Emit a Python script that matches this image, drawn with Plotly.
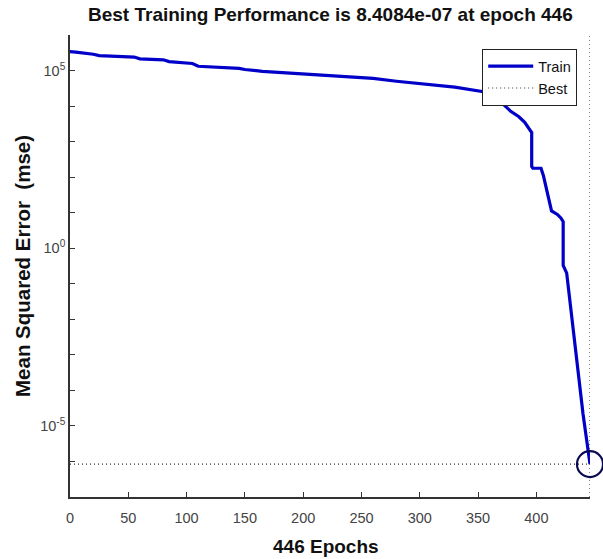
import plotly.graph_objects as go

# Training curve (epoch, mse)
epochs = [0, 5, 20, 25, 55, 60, 80, 85, 105, 110, 145, 150, 165, 200, 240, 260, 280,
          300, 330, 356, 365, 372, 378, 385, 390, 396, 396, 397, 404, 406, 410, 413,
          418, 421, 423, 423, 426, 430, 435, 440, 446]
mse = [3.39e5, 3.31e5, 2.88e5, 2.63e5, 2.40e5, 2.14e5, 2.0e5, 1.78e5, 1.58e5, 1.32e5,
       1.15e5, 1.07e5, 9.5e4, 7.9e4, 6.6e4, 6.0e4, 5.0e4, 4.2e4, 3.4e4, 2.5e4, 1.8e4,
       1.1e4, 7.1e3, 5.0e3, 3.5e3, 1.8e3, 200, 178, 178, 112, 28, 11.2, 8.9, 7.1, 5.6,
       0.33, 0.2, 0.0155, 6.3e-4, 2.2e-5, 8.4084e-7]

best_epoch = 446
best_value = 8.4084e-7
y_min, y_max = 1e-7, 1e6

x_ticks = [0, 50, 100, 150, 200, 250, 300, 350, 400]
y_major = [1e-5, 1e0, 1e5]
y_major_text = ["10<sup>-5</sup>", "10<sup>0</sup>", "10<sup>5</sup>"]
y_minor = [10.0 ** k for k in range(-7, 7) if k not in (-5, 0, 5)]

W, H = 603, 559
L, R, T, B = 70, 13, 35, 62
pw, ph = W - L - R, H - T - B

fig = go.Figure()
fig.add_trace(go.Scatter(
    x=epochs, y=mse, mode="lines", name="Train",
    line=dict(color="#0000c8", width=3.2)))
fig.add_trace(go.Scatter(
    x=[0, best_epoch, None, best_epoch, best_epoch],
    y=[best_value, best_value, None, y_min, y_max],
    mode="lines", name="Best", cliponaxis=False,
    line=dict(color="#333333", width=1.2, dash="1px,3px")))
fig.add_trace(go.Scatter(
    x=[best_epoch], y=[best_value], mode="markers", showlegend=False,
    marker=dict(symbol="circle-open", size=26, color="#0a0a50",
                line=dict(width=2.2, color="#0a0a50")),
    cliponaxis=False))

title_font = dict(family="Liberation Sans, Arial, sans-serif", size=19, color="#111")
ylabel_font = dict(family="Liberation Sans, Arial, sans-serif", size=20.5, color="#111")

fig.update_layout(
    width=W, height=H,
    margin=dict(l=L, r=R, t=T, b=B, autoexpand=False),
    paper_bgcolor="white", plot_bgcolor="white",
    font=dict(family="Liberation Sans, Arial, sans-serif", color="#000"),
    legend=dict(x=(577 - L) / pw, y=(H - B - 49) / ph, xanchor="right", yanchor="top",
                bgcolor="white", bordercolor="#222", borderwidth=1.2,
                font=dict(size=14.5, color="#111"),
                tracegroupgap=0, itemwidth=45),
    showlegend=True,
    annotations=[
        dict(text="<b>Best Training Performance is 8.4084e-07 at epoch 446</b>",
             x=(330 - L) / pw, y=(H - B - 15) / ph, xref="paper", yref="paper",
             xanchor="center", yanchor="middle", showarrow=False, font=title_font),
        dict(text="<b>446 Epochs</b>",
             x=(326 - L) / pw, y=(H - B - 546) / ph, xref="paper", yref="paper",
             xanchor="center", yanchor="middle", showarrow=False, font=title_font),
        dict(text="<b>Mean Squared Error\u00a0\u00a0(mse)</b>",
             x=(22 - L) / pw, y=(H - B - 266) / ph, xref="paper", yref="paper",
             xanchor="center", yanchor="middle", textangle=-90, showarrow=False,
             font=ylabel_font),
    ],
)
fig.update_xaxes(
    range=[0, best_epoch], tickvals=x_ticks, ticks="inside", ticklen=5,
    tickcolor="#333", tickwidth=1, showgrid=False, zeroline=False,
    showline=True, linecolor="#333", linewidth=2.2, automargin=False,
    ticklabelstandoff=6,
    tickfont=dict(size=14.5, color="#444"))
fig.update_yaxes(
    type="log", range=[-7, 6], tickvals=y_major, ticktext=y_major_text,
    ticks="inside", ticklen=5, tickcolor="#333", tickwidth=1,
    minor=dict(tickvals=y_minor, ticks="inside", ticklen=5, tickcolor="#333",
               tickwidth=1, showgrid=False),
    showgrid=False, zeroline=False, showline=True, linecolor="#333", linewidth=1.6,
    automargin=False, tickfont=dict(size=14.5, color="#444"))

fig.write_html("out.html", config={"displayModeBar": False},
               post_script="document.body.style.margin='0';document.body.style.overflow='hidden';")
